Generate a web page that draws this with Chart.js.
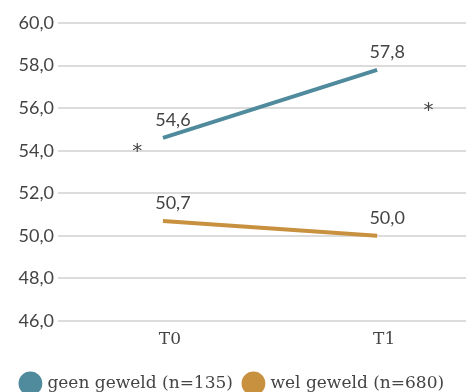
<!DOCTYPE html>
<html>
<head>
<meta charset="utf-8">
<script src="https://cdn.jsdelivr.net/npm/chart.js@4"></script>
<style>
  html, body { margin: 0; padding: 0; background: #fff; overflow: hidden; }
  #wrap { width: 466px; height: 402px; }
</style>
</head>
<body>
<div id="wrap"><canvas id="myChart"></canvas></div>
<script>
// data
var timeLabels = ['T0', 'T1'];
var geenGeweld = [54.6, 57.8];
var welGeweld = [50.7, 50.0];
var seriesNames = ['geen geweld (n=135)', 'wel geweld (n=680)'];
var yTicks = [46, 48, 50, 52, 54, 56, 58, 60];
// significance markers (x in time units, y in score)
var starX = [-0.12, 1.24];
var starY = [54.1, 56.0];

var blue = '#4f8b9c';
var orange = '#c8913f';

function fmt(v) {
    return v.toFixed(1).replace('.', ',');
}

// value labels above points + asterisks
var extraText = {
    id: 'extraText',
    afterDatasetsDraw: function (chart) {
        var c = chart.ctx;
        var xs = chart.scales.x, ys = chart.scales.y;
        c.save();
        c.fillStyle = '#444';
        c.font = '18px Lato';
        c.textAlign = 'center';
        c.textBaseline = 'bottom';
        chart.data.datasets.forEach(function (ds) {
            ds.data.forEach(function (p) {
                c.fillText(fmt(p.y), xs.getPixelForValue(p.x) + 10, ys.getPixelForValue(p.y) - 9);
            });
        });
        c.font = '20px "DejaVu Sans"';
        c.textBaseline = 'middle';
        for (var i = 0; i < starX.length; i++) {
            c.fillText('*', xs.getPixelForValue(starX[i]), ys.getPixelForValue(starY[i]) + 3);
        }
        c.restore();
    }
};

var ctx = document.getElementById('myChart').getContext('2d');
var chart = new Chart(ctx, {
    type: 'line',
    data: {
        datasets: [{
                label: seriesNames[0],
                data: geenGeweld.map(function (v, i) { return {x: i, y: v}; }),
                borderColor: blue,
                backgroundColor: blue,
                borderWidth: 4,
                pointRadius: 0
            },
            {
                label: seriesNames[1],
                data: welGeweld.map(function (v, i) { return {x: i, y: v}; }),
                borderColor: orange,
                backgroundColor: orange,
                borderWidth: 4,
                pointRadius: 0
            }
        ]
    },
    plugins: [extraText],
    options: {
        responsive: true,
        maintainAspectRatio: false,
        animation: false,
        layout: { padding: { top: 23, left: 0, right: 0, bottom: 0 } },
        plugins: {
            tooltip: { enabled: false },
            legend: {
                position: 'bottom',
                align: 'center',
                labels: {
                    usePointStyle: true,
                    pointStyle: 'circle',
                    boxWidth: 20,
                    boxHeight: 14,
                    padding: 12,
                    color: '#444',
                    font: { family: '"DejaVu Serif"', size: 17 }
                }
            }
        },
        scales: {
            x: {
                type: 'linear',
                min: -0.49,
                max: 1.415,
                border: { display: false },
                grid: { display: false },
                afterBuildTicks: function (axis) {
                    axis.ticks = timeLabels.map(function (l, i) { return {value: i}; });
                },
                afterFit: function (axis) { axis.height = 42; },
                ticks: {
                    color: '#444',
                    font: { family: '"DejaVu Serif"', size: 17 },
                    labelOffset: 7,
                    padding: 0,
                    callback: function (v) { return timeLabels[v]; }
                }
            },
            y: {
                min: 46,
                max: 60,
                border: { display: false },
                grid: { color: '#dcdcdc', lineWidth: 2, drawTicks: false },
                afterBuildTicks: function (axis) {
                    axis.ticks = yTicks.map(function (v) { return {value: v}; });
                },
                afterFit: function (axis) { axis.width = 58; },
                ticks: {
                    color: '#444',
                    padding: 4,
                    font: { family: 'Lato', size: 18 },
                    callback: function (v) { return fmt(v); }
                }
            }
        }
    }
});
</script>
</body>
</html>
